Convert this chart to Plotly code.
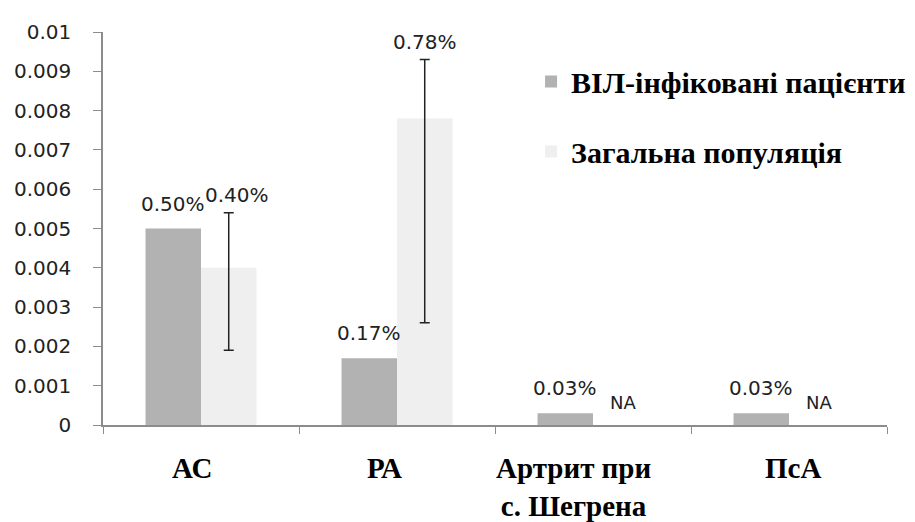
import plotly.graph_objects as go

# ---- data ----
categories = ["АС", "РА", "Артрит при<br>с. Шегрена", "ПсА"]
hiv_values = [0.005, 0.0017, 0.0003, 0.0003]
gen_values = [0.004, 0.0078, None, None]
gen_err_plus = [0.0014, 0.0015, None, None]
gen_err_minus = [0.0021, 0.0052, None, None]
hiv_labels = ["0.50%", "0.17%", "0.03%", "0.03%"]
gen_labels = ["0.40%", "0.78%", "NA", "NA"]
series_names = ["ВІЛ-інфіковані пацієнти", "Загальна популяція"]
y_ticks = [0, 0.001, 0.002, 0.003, 0.004, 0.005, 0.006, 0.007, 0.008, 0.009, 0.01]
y_tick_text = ["0", "0.001", "0.002", "0.003", "0.004", "0.005", "0.006", "0.007", "0.008", "0.009", "0.01"]

HIV_COLOR = "#b2b2b2"
GEN_COLOR = "#efefef"
SERIF = "Liberation Serif"
SANS = "DejaVu Sans"

fig = go.Figure()
fig.add_trace(go.Bar(
    x=categories, y=hiv_values, name=series_names[0],
    marker=dict(color=HIV_COLOR, line=dict(width=0)),
    legendgroup="a",
))
fig.add_trace(go.Bar(
    x=categories, y=gen_values, name=series_names[1],
    marker=dict(color=GEN_COLOR, line=dict(width=0)),
    error_y=dict(type="data", symmetric=False,
                 array=gen_err_plus, arrayminus=gen_err_minus,
                 color="#222222", thickness=1.5, width=5),
    legendgroup="b",
))

annotations = []
bar_half = 28
for cat, v, lab in zip(categories, hiv_values, hiv_labels):
    annotations.append(dict(x=cat, y=v, xref="x", yref="y", text=lab, showarrow=False,
                            xshift=-bar_half, yshift=11, yanchor="bottom",
                            font=dict(family=SANS, size=20, color="#222222")))
for i, (cat, v, ep, lab) in enumerate(zip(categories, gen_values, gen_err_plus, gen_labels)):
    if v is None:
        annotations.append(dict(x=cat, y=0, xref="x", yref="y", text=lab, showarrow=False,
                                xshift=bar_half + 2, yshift=10, yanchor="bottom",
                                font=dict(family=SANS, size=18, color="#222222")))
    else:
        extra = 8 if i == 0 else 0
        annotations.append(dict(x=cat, y=v + ep, xref="x", yref="y", text=lab, showarrow=False,
                                xshift=bar_half + extra, yshift=4, yanchor="bottom",
                                font=dict(family=SANS, size=20, color="#222222")))
# category labels
cat_shift = [-9, -13, -20, 4]
for cat, sh in zip(categories, cat_shift):
    annotations.append(dict(x=cat, y=0, xref="x", yref="paper", text="<b>%s</b>" % cat,
                            showarrow=False, xshift=sh, yshift=-25, yanchor="top",
                            font=dict(family=SERIF, size=29, color="#000000")))

fig.update_layout(
    width=915, height=522,
    margin=dict(l=95, r=29, t=24, b=105),
    paper_bgcolor="white", plot_bgcolor="white",
    barmode="group", bargap=0.434, bargroupgap=0,
    showlegend=True,
    legend=dict(x=0.546, y=0.94, xanchor="left", yanchor="top",
                font=dict(family=SERIF, size=30, color="#000000", weight="bold"),
                tracegroupgap=28, bgcolor="rgba(0,0,0,0)",
                itemsizing="constant", traceorder="grouped"),
    annotations=annotations,
    xaxis=dict(showticklabels=False, showline=True, linecolor="#8c8c8c", linewidth=1.5,
               ticks="outside", tickson="boundaries", ticklen=7, tickcolor="#8c8c8c",
               showgrid=False, zeroline=False, automargin=False),
    yaxis=dict(range=[0, 0.01], tickvals=y_ticks, ticktext=y_tick_text,
               showline=True, linecolor="#8c8c8c", linewidth=1.5,
               ticks="outside", ticklen=8, tickcolor="#8c8c8c",
               ticklabelstandoff=18, automargin=False,
               tickfont=dict(family=SANS, size=20, color="#222222"),
               showgrid=False, zeroline=False),
)
fig.write_html("out.html")
